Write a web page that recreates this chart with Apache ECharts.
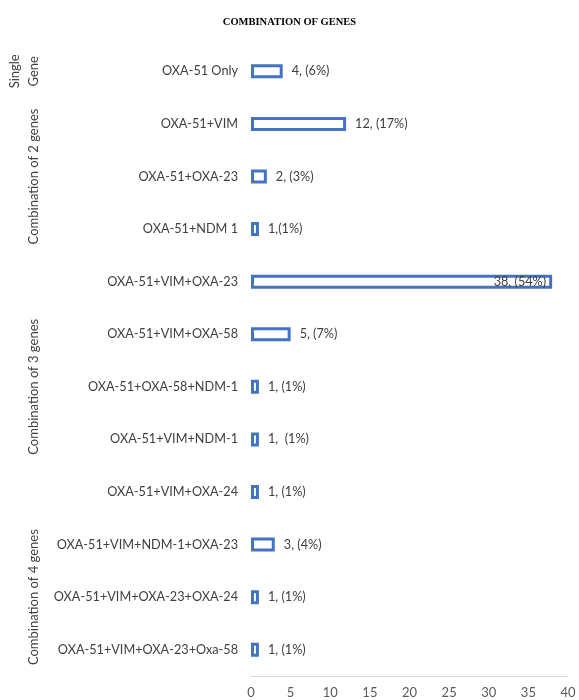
<!DOCTYPE html>
<html><head><meta charset="utf-8">
<script src="https://cdn.jsdelivr.net/npm/echarts@6/dist/echarts.min.js"></script>
<style>html,body{margin:0;padding:0;background:#fff}#c{width:579px;height:700px}</style>
</head><body><div id="c"></div>
<script>
const categories = ["OXA-51 Only","OXA-51+VIM","OXA-51+OXA-23","OXA-51+NDM 1","OXA-51+VIM+OXA-23","OXA-51+VIM+OXA-58","OXA-51+OXA-58+NDM-1","OXA-51+VIM+NDM-1","OXA-51+VIM+OXA-24","OXA-51+VIM+NDM-1+OXA-23","OXA-51+VIM+OXA-23+OXA-24","OXA-51+VIM+OXA-23+Oxa-58"];
const values = [4,12,2,1,38,5,1,1,1,3,1,1];
const valueLabels = ["4, (6%)","12, (17%)","2, (3%)","1,(1%)","38, (54%)","5, (7%)","1, (1%)","1,  (1%)","1, (1%)","3, (4%)","1, (1%)","1, (1%)"];
const groups = [
  {lines:["Single","Gene"], from:0, to:0},
  {lines:["Combination of 2 genes"], from:1, to:3},
  {lines:["Combination of 3 genes"], from:4, to:8},
  {lines:["Combination of 4 genes"], from:9, to:11}
];
const xTicks = {min:0, max:40, interval:5};

const font = "Lato, 'Open Sans', sans-serif";
const chart = echarts.init(document.getElementById('c'));
const data = values.map((v,i)=> v >= 30 ? {value:v, label:{position:'insideRight', distance:6}} : v);
chart.setOption({
  animation:false,
  backgroundColor:'#fff',
  title:{text:'COMBINATION OF GENES', left:'center', top:12,
    textStyle:{fontFamily:"'Liberation Serif', serif", fontWeight:'bold', fontSize:10.5, color:'#000'}},
  grid:{left:251, right:11, top:45, bottom:24, containLabel:false},
  xAxis:{type:'value', min:xTicks.min, max:xTicks.max, interval:xTicks.interval,
    axisLine:{show:true, lineStyle:{color:'#d9d9d9'}}, axisTick:{show:false}, splitLine:{show:false},
    axisLabel:{color:'#595959', fontSize:13, fontFamily:font, margin:10}},
  yAxis:{type:'category', inverse:true, data:categories,
    axisLine:{show:false}, axisTick:{show:false},
    axisLabel:{color:'#404040', fontSize:12.7, fontFamily:font, margin:13}},
  series:[{type:'bar', data:data, barWidth:14,
    itemStyle:{color:'#fff', borderColor:'#4472C4', borderWidth:3},
    label:{show:true, position:'right', distance:9, color:'#404040', fontSize:12.7, fontFamily:font,
      formatter:p=>valueLabels[p.dataIndex]}
  }]
});
const graphics = [];
groups.forEach(g=>{
  const y1 = chart.convertToPixel({yAxisIndex:0}, categories[g.from]);
  const y2 = chart.convertToPixel({yAxisIndex:0}, categories[g.to]);
  const n = g.lines.length;
  g.lines.forEach((t,k)=>{
    const x = 34 - (n-1-k)*19;
    graphics.push({type:'text', x:x, y:(y1+y2)/2, rotation:Math.PI/2,
      style:{text:t, fill:'#404040', fontSize:13, fontFamily:font, align:'center', verticalAlign:'middle'}});
  });
});
chart.setOption({graphic:graphics});
</script></body></html>
